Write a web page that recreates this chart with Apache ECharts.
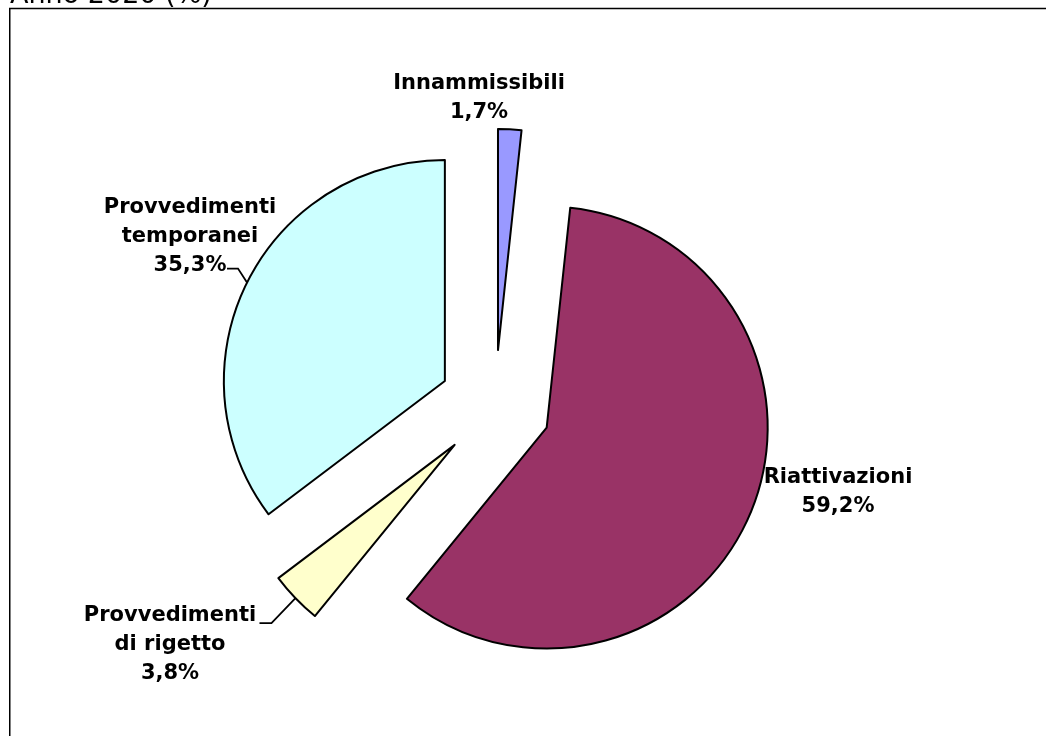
<!DOCTYPE html>
<html>
<head>
<meta charset="utf-8">
<script src="https://cdn.jsdelivr.net/npm/echarts@6/dist/echarts.min.js"></script>
<style>
  html, body { margin: 0; padding: 0; background: #fff; }
  #chart { width: 1046px; height: 736px; }
</style>
</head>
<body>
<div id="chart"></div>
<script>
// ---- Data ----
const titleText = 'Anno 2020 (%)';
const categories = ['Innammissibili', 'Riattivazioni', 'Provvedimenti di rigetto', 'Provvedimenti temporanei'];
const labelNames = ['Innammissibili', 'Riattivazioni', 'Provvedimenti\ndi rigetto', 'Provvedimenti\ntemporanei'];
const values = [1.7, 59.2, 3.8, 35.3];

// ---- Styles / layout ----
const colors = ['#9999FF', '#993366', '#FFFFCC', '#CCFFFF'];
const CX = 495, CY = 406, RADIUS = 221, EXPLODE = 56;
const labelCenters = [[479, 98], [838, 492], [170, 645], [190, 237]];
// leader line: [elbow offset from arc anchor, end offset from elbow] (null = no leader)
const leaders = [null, null, [[-24, 25], [-12, 0]], [[-9, -14], [-11, 0]]];
const FONT = 'DejaVu Sans';

const total = values.reduce((a, b) => a + b, 0);

function fmt(v) { return v.toFixed(1).replace('.', ',') + '%'; }

const series = values.map((v, i) => {
  let cum = 0;
  for (let j = 0; j < i; j++) cum += values[j];
  const mid = (cum + v / 2) / total * Math.PI * 2;
  const center = [CX + EXPLODE * Math.sin(mid), CY - EXPLODE * Math.cos(mid)];
  const data = values.map((val, k) => {
    if (k === i) {
      return {
        value: val,
        name: categories[k],
        itemStyle: { color: colors[k], borderColor: '#000', borderWidth: 2 },
        label: { show: true },
        labelLine: { show: !!leaders[k] }
      };
    }
    return {
      value: val,
      name: categories[k],
      itemStyle: { color: 'rgba(0,0,0,0)', borderWidth: 0 },
      label: { show: false },
      labelLine: { show: false }
    };
  });
  return {
    type: 'pie',
    center: center,
    radius: RADIUS,
    startAngle: 90,
    clockwise: true,
    avoidLabelOverlap: false,
    animation: false,
    emphasis: { disabled: true },
    label: {
      position: 'outside',
      color: '#000',
      fontFamily: FONT,
      fontWeight: 'bold',
      fontSize: 21,
      lineHeight: 29,
      align: 'center',
      formatter: (p) => labelNames[p.dataIndex] + '\n' + fmt(p.value)
    },
    labelLine: {
      lineStyle: { color: '#000', width: 1.8 },
      length: 15,
      length2: 10
    },
    labelLayout: function (params) {
      if (params.dataIndex !== i) return {};
      const out = {
        x: labelCenters[i][0],
        y: labelCenters[i][1],
        align: 'center',
        verticalAlign: 'middle'
      };
      const ld = leaders[i];
      if (ld && params.labelLinePoints) {
        const a = params.labelLinePoints[0];
        const e = [a[0] + ld[0][0], a[1] + ld[0][1]];
        const t = [e[0] + ld[1][0], e[1] + ld[1][1]];
        out.labelLinePoints = [a, e, t];
      }
      return out;
    },
    data: data
  };
});

const chart = echarts.init(document.getElementById('chart'), null, { renderer: 'canvas' });
chart.setOption({
  backgroundColor: '#fff',
  animation: false,
  graphic: [
    {
      type: 'rect',
      shape: { x: 9.75, y: 8.6, width: 1100, height: 800 },
      style: { fill: 'none', stroke: '#000', lineWidth: 1.5 },
      z: 0
    },
    {
      type: 'text',
      x: 10,
      y: 9,
      style: {
        text: titleText,
        fill: '#000',
        font: '27px "DejaVu Sans"',
        verticalAlign: 'bottom',
        align: 'left'
      },
      z: 1
    }
  ],
  series: series
});
</script>
</body>
</html>
